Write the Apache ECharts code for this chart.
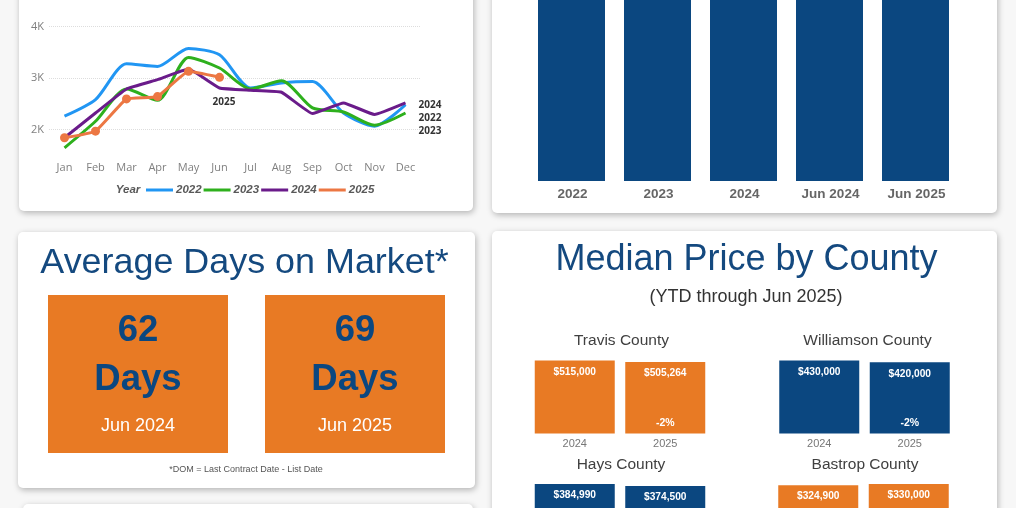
<!DOCTYPE html>
<html>
<head>
<meta charset="utf-8">
<script src="https://cdn.jsdelivr.net/npm/echarts@6/dist/echarts.min.js"></script>
<style>
  html, body { margin: 0; padding: 0; background: #f7f7f7; }
  #main { width: 1016px; height: 508px; }
</style>
</head>
<body>
<div id="main"></div>
<script>
const months = ['Jan', 'Feb', 'Mar', 'Apr', 'May', 'Jun', 'Jul', 'Aug', 'Sep', 'Oct', 'Nov', 'Dec'];
const sales2022 = [2258, 2580, 3277, 3225, 3574, 3450, 2806, 2903, 2930, 2320, 2065, 2480];
const sales2023 = [1645, 2160, 2787, 2568, 3400, 3194, 2787, 2948, 2420, 2340, 2084, 2320];
const sales2024 = [1840, 2320, 2787, 2968, 3174, 2806, 2761, 2723, 2310, 2516, 2290, 2516];
const sales2025 = [1840, 1968, 2594, 2639, 3129, 3013];

// the tops of these bars are cropped off the picture, so all of them just run to the axis max
const periodLabels = ['2022', '2023', '2024', 'Jun 2024', 'Jun 2025'];
const periodValues = [100, 100, 100, 100, 100];

const domValues = [62, 69];
const domLabels = ['Jun 2024', 'Jun 2025'];

const countyYears = ['2024', '2025'];
const travisPrices = [515000, 505264];
const williamsonPrices = [430000, 420000];
const haysPrices = [384990, 374500];
const bastropPrices = [324900, 330000];
const travisChange = '-2%';
const williamsonChange = '-2%';

const NAVY = '#0b4780';
const ORANGE = '#e87a24';
const FONT = '"Liberation Sans", Arial, sans-serif';

function card(x, y, w, h) {
  return {
    type: 'rect',
    silent: true,
    shape: { x, y, width: w, height: h, r: 5 },
    style: { fill: '#fff', shadowBlur: 6, shadowColor: 'rgba(0,0,0,0.28)', shadowOffsetX: 1, shadowOffsetY: 2 },
  };
}

function text(str, x, y, size, color, weight, extra) {
  return {
    type: 'text',
    silent: true,
    x, y,
    style: Object.assign({
      text: str, fontSize: size, fontFamily: FONT, fill: color, fontWeight: weight || 'normal',
      align: 'center', verticalAlign: 'middle',
    }, extra || {}),
  };
}

function domTile(x, i) {
  const cx = x + 90;
  return [
    { type: 'rect', silent: true, shape: { x, y: 295, width: 180, height: 158 }, style: { fill: ORANGE } },
    text(String(domValues[i]), cx, 331, 36.5, NAVY, 'bold'),
    text('Days', cx, 380, 36.5, NAVY, 'bold'),
    text(domLabels[i], cx, 426, 18, '#fff'),
  ];
}

const graphics = [
  card(19, -20, 454, 231),
  card(492, -20, 505, 233),
  card(18, 232, 457, 256),
  card(492, 231, 505, 300),
  card(23, 504, 450, 40),
  text('Year', 128, 190, 11.5, '#595959', 'bold', { fontStyle: 'italic' }),
  text('Average Days on Market*', 244.5, 263, 35.9, '#14497f'),
  ...domTile(48, 0),
  ...domTile(265, 1),
  text('*DOM = Last Contract Date - List Date', 246, 470, 9, '#555'),
  text('Median Price by County', 746.5, 260, 36, '#14497f'),
  text('(YTD through Jun 2025)', 746, 297, 18, '#333'),
  text('Travis County', 621.5, 341, 15.5, '#404040'),
  text('Williamson County', 867.5, 341, 15.5, '#404040'),
  text('Hays County', 621, 465, 15.5, '#404040'),
  text('Bastrop County', 865, 465, 15.5, '#404040'),
];

// one small grid per county; every price bar is 73px at its own peak price
const countyPanels = [
  { prices: travisPrices, left: 529.5, top: 360.5, color: ORANGE, change: travisChange },
  { prices: williamsonPrices, left: 774, top: 360.5, color: NAVY, change: williamsonChange },
  { prices: haysPrices, left: 529.5, top: 484, color: NAVY },
  { prices: bastropPrices, left: 773, top: 484, color: ORANGE },
];

const grids = [
  { left: 49, top: 26.5, width: 372, height: 154.5, outerBoundsMode: 'none' },
  { left: 528.5, top: 0, width: 430, height: 181, outerBoundsMode: 'none' },
];
const xAxes = [
  {
    gridIndex: 0, type: 'category', data: months,
    axisLine: { show: false }, axisTick: { show: false },
    axisLabel: { margin: -19, color: '#808080', fontSize: 11, fontFamily: '"Open Sans", sans-serif' },
  },
  {
    gridIndex: 1, type: 'category', data: periodLabels,
    axisLine: { show: false }, axisTick: { show: false },
    axisLabel: { margin: 6, padding: [0, 0, 0, 2], color: '#666', fontSize: 13.5, fontWeight: 'bold', fontFamily: FONT },
  },
];
const yAxes = [
  {
    gridIndex: 0, type: 'value', min: 1000, max: 4000, interval: 1000,
    axisLine: { show: false }, axisTick: { show: false },
    axisLabel: {
      margin: 5, color: '#808080', fontSize: 11, fontFamily: '"Open Sans", sans-serif',
      formatter: v => (v === 1000 ? '' : v / 1000 + 'K'),
    },
    splitLine: { showMinLine: false, lineStyle: { color: '#ddd', type: 'dotted', width: 1 } },
  },
  { gridIndex: 1, type: 'value', min: 0, max: 100, show: false },
];

function lineSeries(name, data, color, endText, offset, smooth) {
  return {
    name, type: 'line', xAxisIndex: 0, yAxisIndex: 0, data,
    smooth, symbol: 'none', lineStyle: { color, width: 3 }, itemStyle: { color },
    endLabel: {
      show: true, formatter: endText, offset,
      color: '#333', fontSize: 10, fontWeight: 'bold', fontFamily: '"Open Sans", sans-serif',
    },
    z: 3,
  };
}

const series = [
  lineSeries('2022', sales2022, '#2196f3', '2022', [5, 13], 0.25),
  lineSeries('2023', sales2023, '#2eb01d', '2023', [5, 18], 0.25),
  lineSeries('2024', sales2024, '#6a1b8a', '2024', [5, 2], 0.1),
  Object.assign(lineSeries('2025', sales2025, '#ec7743', '2025', [-15, 25], 0.1), {
    symbol: 'circle', symbolSize: 9, showSymbol: true, z: 4,
  }),
  {
    type: 'bar', xAxisIndex: 1, yAxisIndex: 1, data: periodValues, barWidth: 67,
    itemStyle: { color: NAVY },
  },
];

countyPanels.forEach((p, i) => {
  const idx = i + 2;
  grids.push({ left: p.left, top: p.top, width: 181, height: 73, outerBoundsMode: 'none' });
  xAxes.push({
    gridIndex: idx, type: 'category', data: countyYears,
    axisLine: { show: false }, axisTick: { show: false },
    axisLabel: { margin: 5, color: '#777', fontSize: 11, fontFamily: FONT },
  });
  yAxes.push({ gridIndex: idx, type: 'value', min: 0, max: Math.max(...p.prices), show: false });
  series.push({
    type: 'bar', xAxisIndex: idx, yAxisIndex: idx, data: p.prices, barWidth: 80,
    itemStyle: { color: p.color },
    label: {
      show: true, position: 'insideTop', distance: 6.5, color: '#fff', fontSize: 10.2, fontWeight: 'bold', fontFamily: FONT,
      formatter: c => '$' + c.value.toLocaleString('en-US'),
    },
    z: 2,
  });
  if (p.change) {
    series.push({
      type: 'bar', xAxisIndex: idx, yAxisIndex: idx, data: [null, p.prices[1]], barWidth: 80, barGap: '-100%',
      itemStyle: { color: 'transparent' },
      label: {
        show: true, position: 'insideBottom', distance: 5, color: '#fff', fontSize: 10.5, fontWeight: 'bold', fontFamily: FONT,
        formatter: p.change,
      },
      z: 3,
    });
  }
});

const chart = echarts.init(document.getElementById('main'));
chart.setOption({
  animation: false,
  backgroundColor: '#f7f7f7',
  graphic: { elements: graphics.map(g => Object.assign({ z: -1 }, g)) },
  legend: {
    data: ['2022', '2023', '2024', '2025'],
    left: 146, top: 184, itemWidth: 27, itemHeight: 3, itemGap: 2, icon: 'rect',
    textStyle: { color: '#595959', fontSize: 11.5, fontWeight: 'bold', fontStyle: 'italic', fontFamily: FONT, padding: [0, 0, 0, -2] },
    padding: 0,
  },
  grid: grids,
  xAxis: xAxes,
  yAxis: yAxes,
  series,
});
</script>
</body>
</html>
